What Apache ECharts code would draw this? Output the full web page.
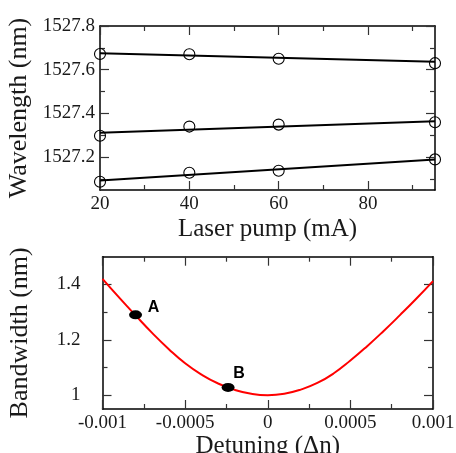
<!DOCTYPE html>
<html><head><meta charset="utf-8">
<script src="https://cdn.jsdelivr.net/npm/echarts@6/dist/echarts.min.js"></script>
<style>html,body{margin:0;padding:0;background:#fff}#c{width:456px;height:453px}</style>
</head><body><div id="c"></div>
<script>
// ---- Top panel data ----
const pumpCurrent = [20, 40, 60, 95];
const wavelength1 = [1527.672, 1527.671, 1527.65, 1527.63];
const wavelength2 = [1527.298, 1527.34, 1527.349, 1527.36];
const wavelength3 = [1527.088, 1527.129, 1527.138, 1527.19];
const fitPump = [20, 95];
const fit1 = [1527.675, 1527.637];
const fit2 = [1527.312, 1527.364];
const fit3 = [1527.093, 1527.19];
const pumpMajorTicks = [20, 40, 60, 80];
const pumpMinorTicks = [30, 50, 70, 90];
const wlMajorTicks = [1527.2, 1527.4, 1527.6, 1527.8];
const wlMinorTicks = [1527.1, 1527.3, 1527.5, 1527.7];

// ---- Bottom panel data ----
const detuning = [-0.001, -0.0009, -0.0008, -0.0007, -0.0006, -0.0005, -0.0004, -0.0003, -0.0002, -0.0001, 0,
                  0.0001, 0.0002, 0.0003, 0.0004, 0.0005, 0.0006, 0.0007, 0.0008, 0.0009, 0.001];
const bandwidth = [1.42, 1.353, 1.288, 1.225, 1.167, 1.115, 1.074, 1.042, 1.019, 1.005, 1.0,
                   1.005, 1.02, 1.044, 1.079, 1.125, 1.176, 1.231, 1.289, 1.349, 1.412];
const pointDetuning = [-0.0008, -0.00024];
const pointBandwidth = [1.29, 1.028];
const pointNames = ['A', 'B'];
const detMajorTicks = [-0.001, -0.0005, 0, 0.0005, 0.001];
const detMajorLabels = ['-0.001', '-0.0005', '0', '0.0005', '0.001'];
const detMinorTicks = [-0.00075, -0.00025, 0.00025, 0.00075];
const bwMajorTicks = [1.0, 1.2, 1.4];
const bwMajorLabels = ['1', '1.2', '1.4'];
const bwMinorTicks = [1.1, 1.3];

const SERIF = 'Liberation Serif';
const TXT = '#1a1a1a';
const TICKC = '#333';

function axis(grid, min, max, pos, opts) {
  const major = opts.major;
  const a = {
    type: 'value', gridIndex: grid, min: min, max: max, position: pos,
    splitLine: {show: false},
    axisLine: {show: !!opts.line, onZero: false, lineStyle: {color: '#000', width: 1.5}},
    axisTick: {show: true, inside: true, length: major ? 9 : 5, customValues: opts.ticks,
               lineStyle: {color: TICKC, width: 1.2}},
    minorTick: {show: false}
  };
  const vals = opts.ticks, labs = opts.labels;
  a.axisLabel = {show: true, customValues: vals, fontFamily: SERIF, fontSize: 19,
    color: labs ? TXT : 'rgba(0,0,0,0)', margin: opts.margin || 5,
    formatter: function (v) {
      if (!labs) return '';
      for (let i = 0; i < vals.length; i++) if (Math.abs(vals[i] - v) < 1e-9) return labs[i];
      return '';
    }};
  if (opts.name) {
    a.name = opts.name; a.nameLocation = 'middle'; a.nameGap = opts.nameGap;
    a.nameTextStyle = {fontFamily: SERIF, fontSize: opts.nameSize, color: TXT};
  }
  return a;
}

const wlLabels = wlMajorTicks.map(v => v.toFixed(1));
const pumpLabels = pumpMajorTicks.map(v => String(v));

const rectTop = {left: 100, top: 26, width: 335, height: 164, outerBoundsMode: 'none', containLabel: false};
const rectBot = {left: 102.5, top: 256.7, width: 330.5, height: 152.3, outerBoundsMode: 'none', containLabel: false};
const grids = [rectTop, rectTop, rectTop, rectTop, rectBot, rectBot, rectBot, rectBot].map(r => Object.assign({}, r));

const xAxes = [
  axis(0, 20, 95, 'bottom', {major: true, line: true, ticks: pumpMajorTicks, labels: pumpLabels, margin: 5,
       name: 'Laser pump (mA)', nameGap: 27, nameSize: 25}),
  axis(1, 20, 95, 'top', {major: true, line: true, ticks: pumpMajorTicks}),
  axis(2, 20, 95, 'bottom', {major: false, ticks: pumpMinorTicks}),
  axis(3, 20, 95, 'top', {major: false, ticks: pumpMinorTicks}),
  axis(4, -0.001, 0.001, 'bottom', {major: true, line: true, ticks: detMajorTicks, labels: detMajorLabels, margin: 5,
       name: 'Detuning (\u0394n)', nameGap: 23, nameSize: 25}),
  axis(5, -0.001, 0.001, 'top', {major: true, line: true, ticks: detMajorTicks}),
  axis(6, -0.001, 0.001, 'bottom', {major: false, ticks: detMinorTicks}),
  axis(7, -0.001, 0.001, 'top', {major: false, ticks: detMinorTicks})
];
const yAxes = [
  axis(0, 1527.05, 1527.8, 'left', {major: true, line: true, ticks: wlMajorTicks, labels: wlLabels, margin: 5,
       name: 'Wavelength (nm)', nameGap: 67, nameSize: 26}),
  axis(1, 1527.05, 1527.8, 'right', {major: true, line: true, ticks: wlMajorTicks}),
  axis(2, 1527.05, 1527.8, 'left', {major: false, ticks: wlMinorTicks}),
  axis(3, 1527.05, 1527.8, 'right', {major: false, ticks: wlMinorTicks}),
  axis(4, 0.95, 1.5, 'left', {major: true, line: true, ticks: bwMajorTicks, labels: bwMajorLabels, margin: 22,
       name: 'Bandwidth (nm)', nameGap: 69, nameSize: 26}),
  axis(5, 0.95, 1.5, 'right', {major: true, line: true, ticks: bwMajorTicks}),
  axis(6, 0.95, 1.5, 'left', {major: false, ticks: bwMinorTicks}),
  axis(7, 0.95, 1.5, 'right', {major: false, ticks: bwMinorTicks})
];

function zip(a, b) { return a.map((v, i) => [v, b[i]]); }

const circleSeries = [wavelength1, wavelength2, wavelength3].map(w => ({
  type: 'scatter', xAxisIndex: 0, yAxisIndex: 0, data: zip(pumpCurrent, w),
  symbol: 'circle', symbolSize: 11, z: 3,
  itemStyle: {color: 'rgba(255,255,255,0)', borderColor: '#000', borderWidth: 1.1, opacity: 1}
}));
const fitSeries = [fit1, fit2, fit3].map(f => ({
  type: 'line', xAxisIndex: 0, yAxisIndex: 0, data: zip(fitPump, f),
  symbol: 'none', lineStyle: {color: '#000', width: 2}, z: 2
}));

const labelOffsets = [[18, -7], [11, -14]];
const pointData = pointDetuning.map((d, i) => ({
  value: [d, pointBandwidth[i]], name: pointNames[i],
  label: {show: true, position: 'inside', offset: labelOffsets[i], formatter: '{b}',
          fontFamily: 'Liberation Sans', fontWeight: 'bold', fontSize: 16, color: '#000',
          textBorderWidth: 0, opacity: 1}
}));

const option = {
  animation: false,
  backgroundColor: '#fff',
  grid: grids,
  xAxis: xAxes,
  yAxis: yAxes,
  series: [
    ...fitSeries,
    ...circleSeries,
    {type: 'line', xAxisIndex: 4, yAxisIndex: 4, data: zip(detuning, bandwidth), smooth: 0.5,
     symbol: 'none', lineStyle: {color: '#ff0000', width: 2}, z: 2},
    {type: 'scatter', xAxisIndex: 4, yAxisIndex: 4, data: pointData, symbol: 'circle',
     symbolSize: [13, 9], itemStyle: {color: '#000', opacity: 1}, z: 4}
  ]
};
const chart = echarts.init(document.getElementById('c'), null, {renderer: 'canvas'});
chart.setOption(option);
</script></body></html>
